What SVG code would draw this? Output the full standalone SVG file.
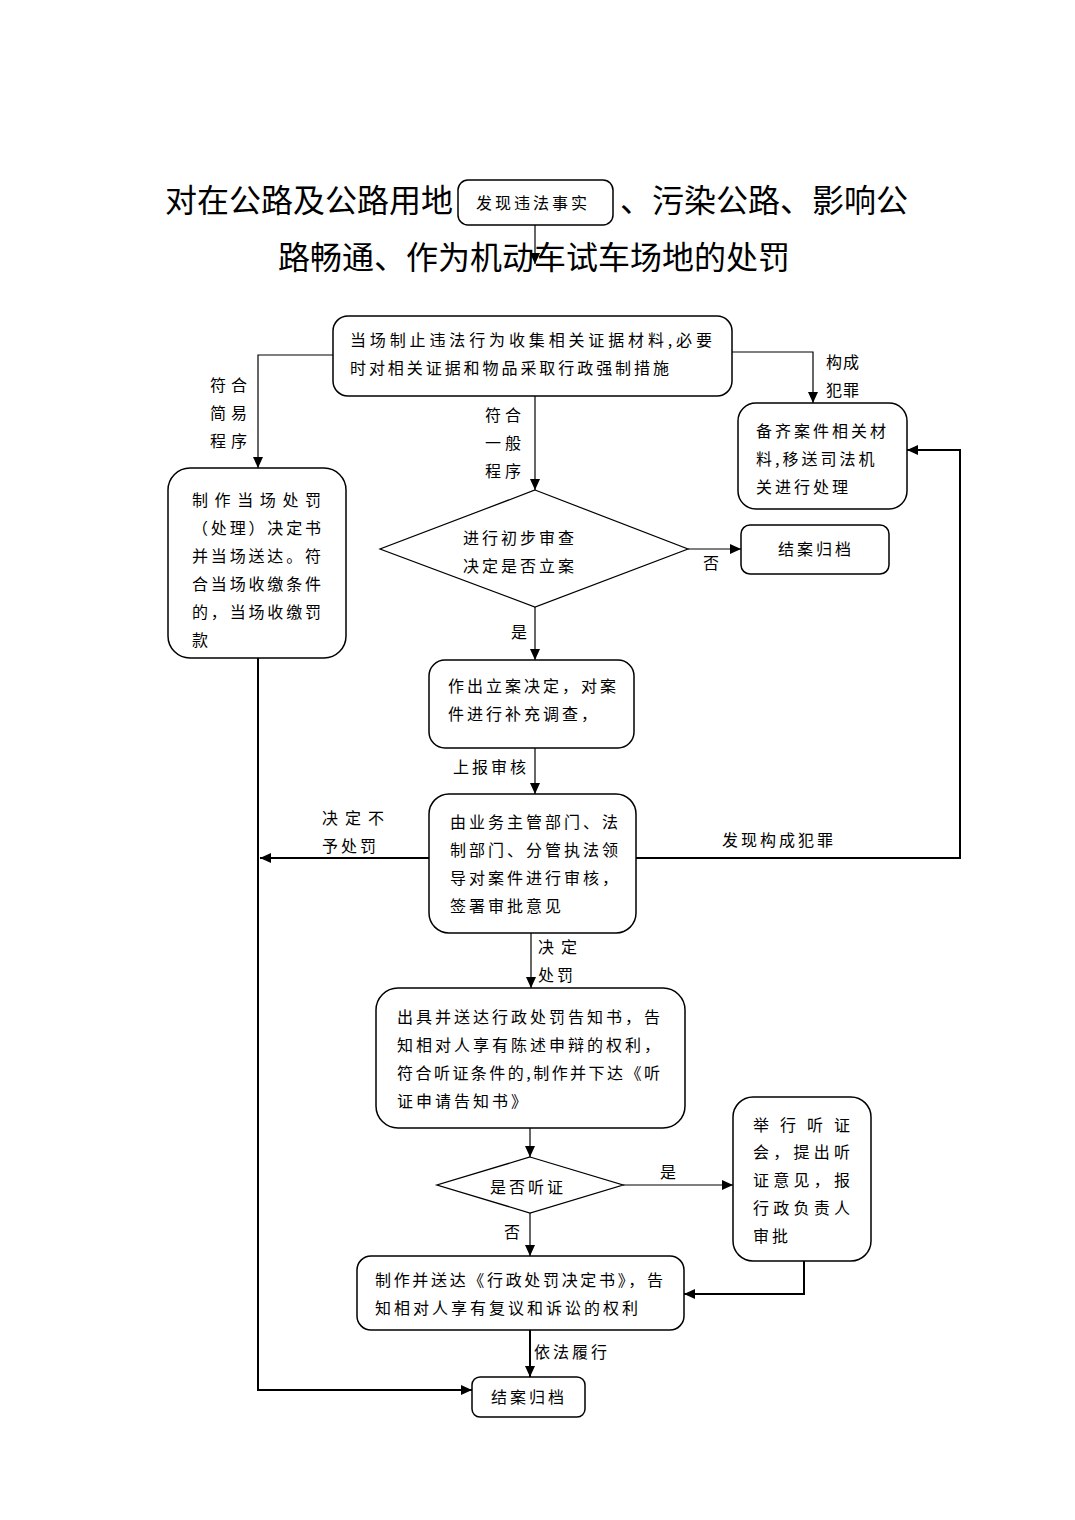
<svg xmlns="http://www.w3.org/2000/svg" width="1075" height="1520" viewBox="0 0 1075 1520">
<style>
.t{font-family:"Noto Sans CJK SC","Noto Sans",sans-serif;font-size:16px;fill:#000;letter-spacing:3px}
.c{text-anchor:middle}
.title{font-family:"Noto Sans CJK SC","Noto Sans",sans-serif;font-size:32px;fill:#000;font-weight:400}
.box{fill:#fff;stroke:#000;stroke-width:1.5}
.ln{fill:none;stroke:#000;stroke-width:1.2}
.lt{fill:none;stroke:#000;stroke-width:2}
</style>
<defs>
<marker id="ah" markerUnits="userSpaceOnUse" markerWidth="12" markerHeight="10" refX="11" refY="5" orient="auto">
<path d="M0,0 L11,5 L0,10 Z" fill="#000"/>
</marker>
</defs>
<rect width="1075" height="1520" fill="#fff"/>

<g id="title">
<text class="title" x="165" y="212">对在公路及公路用地</text>
<text class="title" x="620" y="212">、污染公路、影响公</text>
<text class="title" x="278" y="269">路畅通、作为机动车试车场地的处罚</text>
</g>

<g id="connectors">
<line class="ln" x1="535" y1="225" x2="535" y2="264" marker-end="url(#ah)"/>
<polyline class="ln" points="333,355 258,355 258,468" marker-end="url(#ah)"/>
<polyline class="ln" points="732,352 813,352 813,403" marker-end="url(#ah)"/>
<line class="ln" x1="535" y1="396" x2="535" y2="490" marker-end="url(#ah)"/>
<line class="ln" x1="688" y1="549" x2="741" y2="549" marker-end="url(#ah)"/>
<line class="ln" x1="535" y1="607" x2="535" y2="660" marker-end="url(#ah)"/>
<line class="ln" x1="535" y1="748" x2="535" y2="794" marker-end="url(#ah)"/>
<line class="lt" x1="429" y1="858" x2="260" y2="858" marker-end="url(#ah)"/>
<polyline class="lt" points="636,858 960,858 960,450 907,450" marker-end="url(#ah)"/>
<line class="ln" x1="531" y1="933" x2="531" y2="988" marker-end="url(#ah)"/>
<line class="ln" x1="530" y1="1128" x2="530" y2="1157" marker-end="url(#ah)"/>
<line class="ln" x1="623" y1="1185" x2="733" y2="1185" marker-end="url(#ah)"/>
<line class="ln" x1="530" y1="1213" x2="530" y2="1256" marker-end="url(#ah)"/>
<polyline class="lt" points="804,1261 804,1294 684,1294" marker-end="url(#ah)"/>
<line class="lt" x1="530" y1="1330" x2="530" y2="1377" marker-end="url(#ah)"/>
<polyline class="lt" points="258,658 258,1390 472,1390" marker-end="url(#ah)"/>
</g>

<g id="labels">
<text class="t" x="210" y="391" style="letter-spacing:5px">符合</text>
<text class="t" x="210" y="419" style="letter-spacing:5px">简易</text>
<text class="t" x="210" y="447" style="letter-spacing:5px">程序</text>
<text class="t" x="826" y="368" style="letter-spacing:1px">构成</text>
<text class="t" x="826" y="396" style="letter-spacing:1px">犯罪</text>
<text class="t" x="485" y="421" style="letter-spacing:4px">符合</text>
<text class="t" x="485" y="449" style="letter-spacing:4px">一般</text>
<text class="t" x="485" y="477" style="letter-spacing:4px">程序</text>
<text class="t" x="703" y="569">否</text>
<text class="t" x="511" y="638">是</text>
<text class="t" x="453" y="773">上报审核</text>
<text class="t" x="322" y="824" style="letter-spacing:7px">决定不</text>
<text class="t" x="322" y="852">予处罚</text>
<text class="t" x="722" y="846">发现构成犯罪</text>
<text class="t" x="538" y="953" style="letter-spacing:7px">决定</text>
<text class="t" x="538" y="981">处罚</text>
<text class="t" x="660" y="1178">是</text>
<text class="t" x="504" y="1238">否</text>
<text class="t" x="534" y="1358">依法履行</text>
</g>

<g id="n-start">
<rect class="box" x="458" y="180" width="155" height="45" rx="10"/>
<text class="t c" x="533" y="209">发现违法事实</text>
</g>

<g id="n-stop">
<rect class="box" x="333" y="316" width="399" height="80" rx="15"/>
<text class="t" x="350" y="346" textLength="365" lengthAdjust="spacing">当场制止违法行为收集相关证据材料,必要</text>
<text class="t" x="350" y="374" textLength="322" lengthAdjust="spacing">时对相关证据和物品采取行政强制措施</text>
</g>

<g id="n-simple">
<rect class="box" x="168" y="468" width="178" height="190" rx="22"/>
<text class="t" x="192" y="506" textLength="132" lengthAdjust="spacing">制作当场处罚</text>
<text class="t" x="192" y="534" textLength="132" lengthAdjust="spacing">（处理）决定书</text>
<text class="t" x="192" y="562" textLength="132" lengthAdjust="spacing">并当场送达。符</text>
<text class="t" x="192" y="590" textLength="132" lengthAdjust="spacing">合当场收缴条件</text>
<text class="t" x="192" y="618" textLength="132" lengthAdjust="spacing">的，当场收缴罚</text>
<text class="t" x="192" y="646">款</text>
</g>

<g id="n-transfer">
<rect class="box" x="738" y="403" width="169" height="106" rx="18"/>
<text class="t" x="756" y="437">备齐案件相关材</text>
<text class="t" x="756" y="465">料,移送司法机</text>
<text class="t" x="756" y="493">关进行处理</text>
</g>

<g id="n-review">
<polygon points="535,490 688,549 535,607 380,549" fill="#fff" stroke="#000" stroke-width="1.2"/>
<text class="t" x="463" y="544">进行初步审查</text>
<text class="t" x="463" y="572">决定是否立案</text>
</g>

<g id="n-close1">
<rect class="box" x="741" y="525" width="148" height="49" rx="9"/>
<text class="t c" x="816" y="555">结案归档</text>
</g>

<g id="n-file">
<rect class="box" x="429" y="660" width="205" height="88" rx="16"/>
<text class="t" x="448" y="692">作出立案决定，对案</text>
<text class="t" x="448" y="720">件进行补充调查，</text>
</g>

<g id="n-approve">
<rect class="box" x="429" y="794" width="207" height="139" rx="20"/>
<text class="t" x="450" y="828">由业务主管部门、法</text>
<text class="t" x="450" y="856">制部门、分管执法领</text>
<text class="t" x="450" y="884">导对案件进行审核，</text>
<text class="t" x="450" y="912">签署审批意见</text>
</g>

<g id="n-notice">
<rect class="box" x="376" y="988" width="309" height="140" rx="22"/>
<text class="t" x="397" y="1023" textLength="266" lengthAdjust="spacing">出具并送达行政处罚告知书，告</text>
<text class="t" x="397" y="1051" textLength="266" lengthAdjust="spacing">知相对人享有陈述申辩的权利，</text>
<text class="t" x="397" y="1079" textLength="266" lengthAdjust="spacing">符合听证条件的,制作并下达《听</text>
<text class="t" x="397" y="1107">证申请告知书》</text>
</g>

<g id="n-hearing-q">
<polygon points="530,1157 623,1185 530,1213 437,1185" fill="#fff" stroke="#000" stroke-width="1.3"/>
<text class="t c" x="528" y="1193">是否听证</text>
</g>

<g id="n-hearing">
<rect class="box" x="733" y="1097" width="138" height="164" rx="20"/>
<text class="t" x="753" y="1131" textLength="100" lengthAdjust="spacing">举行听证</text>
<text class="t" x="753" y="1158" textLength="100" lengthAdjust="spacing">会，提出听</text>
<text class="t" x="753" y="1186" textLength="100" lengthAdjust="spacing">证意见，报</text>
<text class="t" x="753" y="1214" textLength="100" lengthAdjust="spacing">行政负责人</text>
<text class="t" x="753" y="1242">审批</text>
</g>

<g id="n-decision">
<rect class="box" x="357" y="1256" width="327" height="74" rx="14"/>
<text class="t" x="375" y="1286" textLength="291" lengthAdjust="spacing">制作并送达《行政处罚决定书》，告</text>
<text class="t" x="375" y="1314">知相对人享有复议和诉讼的权利</text>
</g>

<g id="n-close2">
<rect class="box" x="472" y="1377" width="113" height="40" rx="8"/>
<text class="t c" x="529" y="1403">结案归档</text>
</g>
</svg>
